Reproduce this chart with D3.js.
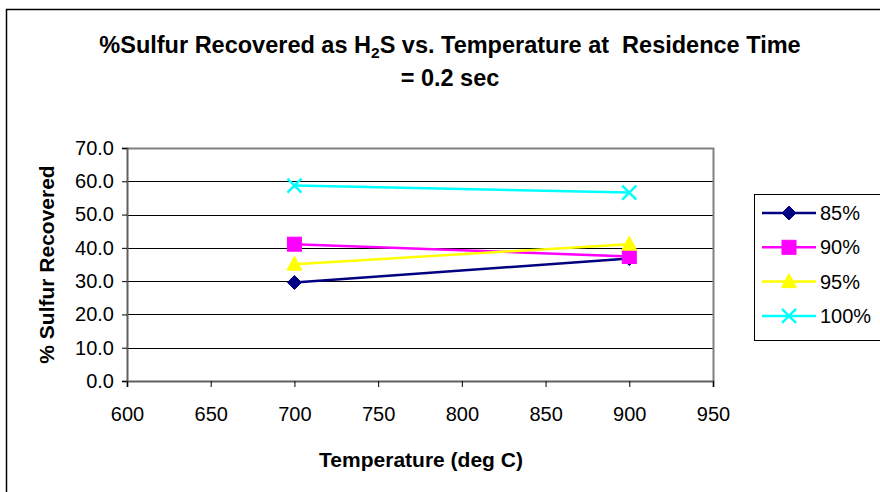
<!DOCTYPE html>
<html>
<head>
<meta charset="utf-8">
<script src="https://cdn.jsdelivr.net/npm/d3@7"></script>
<style>
  html, body { margin: 0; padding: 0; background: #fff; }
  svg { display: block; font-family: Arial, "Liberation Sans", sans-serif; }
</style>
</head>
<body>
<svg id="chart" width="880" height="492"></svg>
<script>
// Temperatures sampled (deg C)
const temperatures = [700, 900];
// Series names (legend labels)
const seriesNames = ["85%", "90%", "95%", "100%"];
// % sulfur recovered for each series at each temperature
const values85 = [29.6, 36.8];
const values90 = [41.1, 37.4];
const values95 = [35.1, 41.1];
const values100 = [58.7, 56.6];
// Axis ticks
const xTicks = [600, 650, 700, 750, 800, 850, 900, 950];
const yTicks = [0, 10, 20, 30, 40, 50, 60, 70];

const seriesColors = ["#000080", "#ff00ff", "#ffff00", "#00ffff"];
const seriesMarkers = ["diamond", "square", "triangle", "cross"];
const seriesValues = [values85, values90, values95, values100];

const FONT = "Arial, 'Liberation Sans', sans-serif";
const svg = d3.select("#chart");

// outer chart frame
svg.append("path")
  .attr("d", "M6.5,500 L6.5,9.5 L890,9.5")
  .attr("fill", "none").attr("stroke", "#000").attr("stroke-width", 1.5);

const plot = { left: 127, right: 713, top: 148, bottom: 381 };

const x = d3.scaleLinear().domain([600, 950]).range([plot.left, plot.right]);
const y = d3.scaleLinear().domain([0, 70]).range([plot.bottom, plot.top]);

// gridlines
svg.append("g").selectAll("line").data(yTicks.filter(d => d > 0)).join("line")
  .attr("x1", plot.left).attr("x2", plot.right)
  .attr("y1", d => Math.round(y(d)) + 0.5).attr("y2", d => Math.round(y(d)) + 0.5)
  .attr("stroke", "#000").attr("stroke-width", 1);

// plot-area frame (top/right)
svg.append("path")
  .attr("d", `M${plot.left},${plot.top + 0.5} L${plot.right + 0.5},${plot.top + 0.5} L${plot.right + 0.5},${plot.bottom}`)
  .attr("fill", "none").attr("stroke", "#808080").attr("stroke-width", 2);

// y axis
const yAxis = svg.append("g")
  .attr("transform", `translate(${plot.left},0)`)
  .call(d3.axisLeft(y).tickValues(yTicks).tickFormat(d3.format(".1f")).tickSize(5).tickPadding(8));
yAxis.select(".domain").attr("stroke", "#606060").attr("stroke-width", 2);
yAxis.selectAll(".tick line").attr("stroke", "#000");
yAxis.selectAll("text").attr("font-size", 20).attr("fill", "#000").attr("font-family", FONT);

// x axis
const xAxis = svg.append("g")
  .attr("transform", `translate(0,${plot.bottom})`)
  .call(d3.axisBottom(x).tickValues(xTicks).tickFormat(d3.format("d")).tickSize(6).tickPadding(20));
xAxis.select(".domain").attr("stroke", "#606060").attr("stroke-width", 2);
xAxis.selectAll(".tick line").attr("stroke", "#000");
xAxis.selectAll("text").attr("font-size", 20).attr("fill", "#000").attr("font-family", FONT);

// marker drawing
function drawMarker(g, type, color, cx, cy) {
  if (type === "diamond") {
    g.append("path").attr("d", `M${cx},${cy - 7} L${cx + 7},${cy} L${cx},${cy + 7} L${cx - 7},${cy} Z`)
      .attr("fill", color).attr("stroke", color).attr("stroke-width", 1);
  } else if (type === "square") {
    g.append("rect").attr("x", cx - 7).attr("y", cy - 7).attr("width", 14).attr("height", 14)
      .attr("fill", color).attr("stroke", color).attr("stroke-width", 1);
  } else if (type === "triangle") {
    g.append("path").attr("d", `M${cx},${cy - 8} L${cx + 7.5},${cy + 6} L${cx - 7.5},${cy + 6} Z`)
      .attr("fill", color).attr("stroke", color).attr("stroke-width", 1);
  } else if (type === "cross") {
    g.append("path").attr("d", `M${cx - 7},${cy - 7} L${cx + 7},${cy + 7} M${cx - 7},${cy + 7} L${cx + 7},${cy - 7}`)
      .attr("fill", "none").attr("stroke", color).attr("stroke-width", 2.5);
  }
}

// series lines and markers
const line = d3.line().x(d => x(d[0])).y(d => y(d[1]));
seriesValues.forEach((vals, i) => {
  const pts = temperatures.map((t, j) => [t, vals[j]]);
  const g = svg.append("g");
  g.append("path").attr("d", line(pts)).attr("fill", "none")
    .attr("stroke", seriesColors[i]).attr("stroke-width", 2.5);
  pts.forEach(p => drawMarker(g, seriesMarkers[i], seriesColors[i], x(p[0]), y(p[1])));
});

// legend
const legend = svg.append("g");
legend.append("rect").attr("x", 754.5).attr("y", 194.5).attr("width", 140).attr("height", 146)
  .attr("fill", "#fff").attr("stroke", "#000").attr("stroke-width", 1);
seriesNames.forEach((name, i) => {
  const ly = 213 + i * 34.3;
  const g = legend.append("g");
  g.append("line").attr("x1", 762).attr("x2", 816).attr("y1", ly).attr("y2", ly)
    .attr("stroke", seriesColors[i]).attr("stroke-width", 2.5);
  drawMarker(g, seriesMarkers[i], seriesColors[i], 789, ly);
  g.append("text").attr("x", 820).attr("y", ly + 7).attr("font-size", 20).attr("fill", "#000").text(name);
});

// title
const title = svg.append("text").attr("text-anchor", "middle").attr("font-weight", "bold")
  .attr("font-size", 23.5).attr("fill", "#000");
const t1 = title.append("tspan").attr("x", 450).attr("y", 53);
t1.append("tspan").text("%Sulfur Recovered as H");
t1.append("tspan").attr("font-size", 15.5).attr("dy", 5).text("2");
t1.append("tspan").attr("dy", -5).text("S vs. Temperature at\u00a0 Residence Time");
title.append("tspan").attr("x", 450).attr("y", 86).text("= 0.2 sec");

// axis titles
svg.append("text").attr("x", 421).attr("y", 467).attr("text-anchor", "middle")
  .attr("font-weight", "bold").attr("font-size", 21).attr("fill", "#000").text("Temperature (deg C)");
svg.append("text").attr("transform", `translate(54,${(plot.top + plot.bottom) / 2}) rotate(-90)`)
  .attr("text-anchor", "middle").attr("font-weight", "bold").attr("font-size", 21).attr("fill", "#000")
  .text("% Sulfur Recovered");
</script>
</body>
</html>
